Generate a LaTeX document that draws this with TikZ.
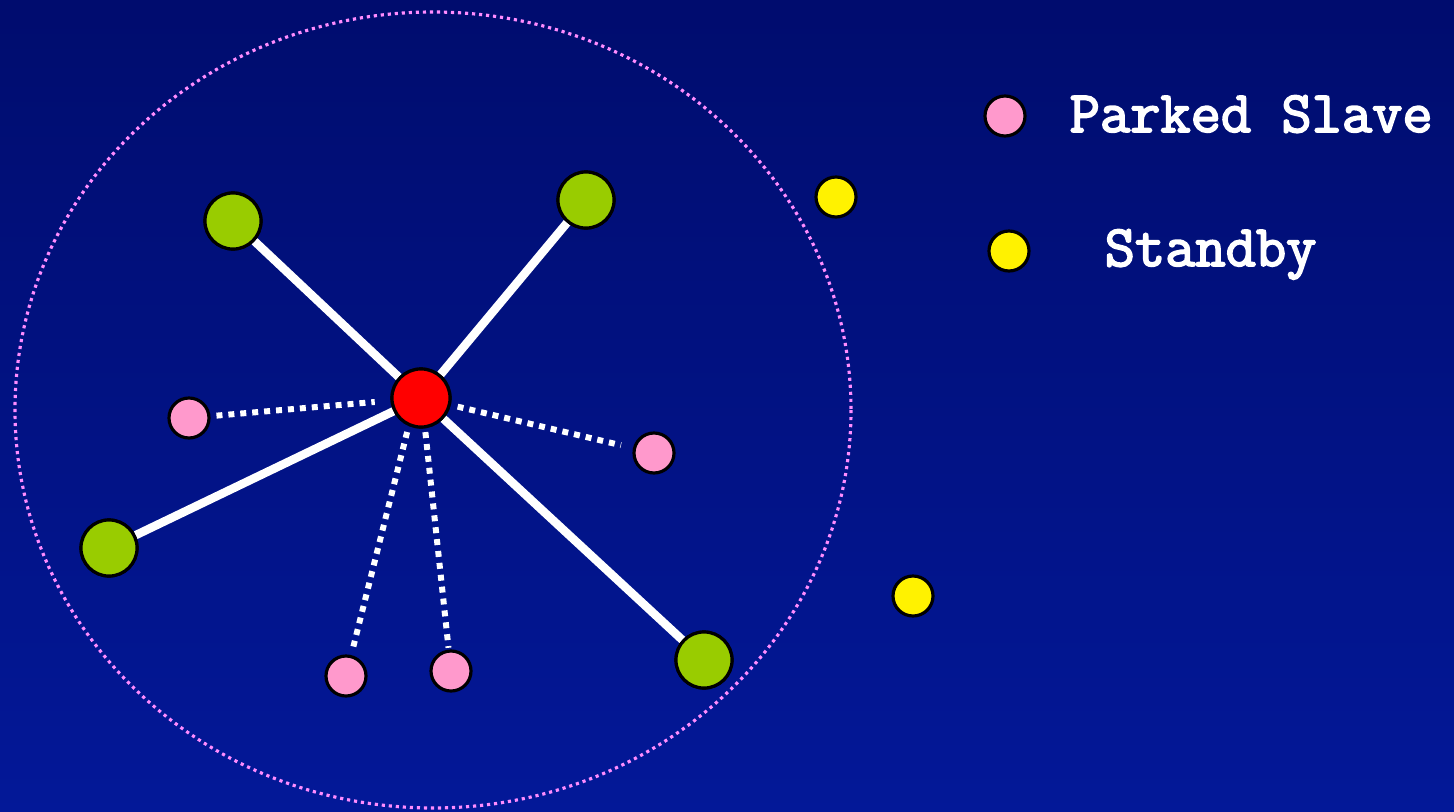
\documentclass[tikz,border=0pt]{standalone}
\usepackage{fontspec}
\newfontfamily\legendfont[FakeBold=3]{Latin Modern Mono}
\usetikzlibrary{positioning}

\definecolor{bgtop}{RGB}{0,12,110}
\definecolor{bgbot}{RGB}{3,24,152}
\definecolor{parkpink}{RGB}{255,153,204}
\definecolor{actgreen}{RGB}{153,204,0}
\definecolor{rangepink}{RGB}{255,140,255}

\tikzset{
    dev/.style={circle, draw=black, line width=0.9pt, inner sep=0pt},
    master/.style={dev, fill=red, minimum size=0.58cm},
    active/.style={dev, fill=actgreen, minimum size=0.56cm},
    parked/.style={dev, fill=parkpink, minimum size=0.4cm},
    standby/.style={dev, fill=yellow, minimum size=0.4cm},
    link/.style={white, line width=2.4pt},
    parklink/.style={white, line width=1.7pt, dash pattern=on 1.7pt off 1.7pt},
    legend/.style={anchor=base west, inner sep=0pt, text=white, font=\legendfont\fontsize{16.7}{19}\selectfont}
}

\begin{document}
\begin{tikzpicture}[x=0.01cm, y=-0.01cm]
    \shade[top color=bgtop, bottom color=bgbot] (0,0) rectangle (1454,812);
    \draw[rangepink, line width=0.9pt, dash pattern=on 0.9pt off 1.1pt] (433,410) ellipse [x radius=418, y radius=398];
    % piconet members
    \node[master] (m) at (421,398) {};
    \node[active] (a1) at (233,221) {};
    \node[active] (a2) at (586,200) {};
    \node[active] (a3) at (109,548) {};
    \node[active] (a4) at (704,660) {};
    \node[parked] (p1) at (189,418) {};
    \node[parked] (p2) at (654,453) {};
    \node[parked] (p3) at (346,676) {};
    \node[parked] (p4) at (451,671) {};
    \node[standby] (s1) at (836,197) {};
    \node[standby] (s2) at (913,596) {};
    \draw[link] (m) -- (a1);
    \draw[link] (m) -- (a2);
    \draw[link] (m) -- (a3);
    \draw[link] (m) -- (a4);
    \draw[parklink, shorten <=1.7pt, shorten >=4.5pt] (p1) -- (m);
    \draw[parklink, shorten <=2pt, shorten >=3.5pt] (m) -- (p2);
    \draw[parklink, shorten <=1pt, shorten >=2.5pt] ([xshift=-0.13cm]m.south) -- (p3);
    \draw[parklink, shorten <=1pt, shorten >=0.5pt] ([xshift=0.04cm]m.south) -- (p4);
    % redraw nodes above links
    \node[master] at (m) {};
    \node[active] at (a1) {};
    \node[active] at (a2) {};
    \node[active] at (a3) {};
    \node[active] at (a4) {};
    % legend
    \node[parked] (lp) at (1005,116) {};
    \node[standby] (ls) at (1009,251) {};
    \node[legend] (lpt) at (1069,132) {Parked Slave};
    \node[legend] (lst) at (1104,266) {Standby};
\end{tikzpicture}
\end{document}
